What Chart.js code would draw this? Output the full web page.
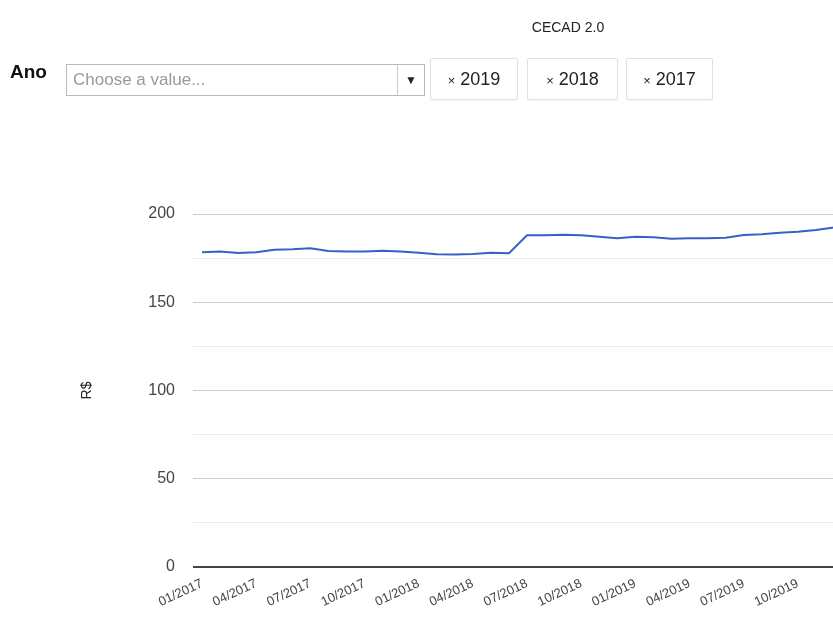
<!DOCTYPE html>
<html>
<head>
<meta charset="utf-8">
<script src="https://cdn.jsdelivr.net/npm/chart.js@4/dist/chart.umd.min.js"></script>
<style>
  html, body { margin: 0; padding: 0; width: 833px; height: 618px; overflow: hidden; background: #fff; font-family: "Liberation Sans", Arial, sans-serif; }
  #wrap { position: absolute; left: 0; top: 0; width: 860px; height: 618px; }
  #title { position: absolute; left: 520px; top: 19px; width: 96px; text-align: center; font-size: 14px; color: #222; white-space: nowrap; }
  #ano { position: absolute; left: 10px; top: 61px; font-size: 19px; font-weight: bold; color: #111; }
  #select { position: absolute; left: 66px; top: 64px; width: 357px; height: 30px; border: 1px solid #bbb; background: #fff; }
  #select .ph { position: absolute; left: 6px; top: 5px; font-size: 17px; color: #999; }
  #select .dd { position: absolute; right: 0; top: 0; width: 26px; height: 30px; border-left: 1px solid #ccc; text-align: center; font-size: 12px; line-height: 31px; color: #222; }
  .chip { position: absolute; top: 58px; height: 40px; border: 1px solid #e0e0e0; border-radius: 2px; box-shadow: 0 1px 1px rgba(0,0,0,0.05); font-size: 18px; color: #222; text-align: center; line-height: 40px; background: #fff; }
  .chip .x { font-size: 13px; margin-right: 5px; }
</style>
</head>
<body>
<div id="wrap"><canvas id="c" width="860" height="618"></canvas></div>
<div id="title">CECAD 2.0</div>
<div id="ano">Ano</div>
<div id="select"><span class="ph">Choose a value...</span><span class="dd">&#9660;</span></div>
<div class="chip" style="left:430px;width:86px;"><span class="x">&#215;</span>2019</div>
<div class="chip" style="left:527px;width:89px;"><span class="x">&#215;</span>2018</div>
<div class="chip" style="left:626px;width:85px;"><span class="x">&#215;</span>2017</div>
<script>
const months = [
  '01/2017','02/2017','03/2017','04/2017','05/2017','06/2017','07/2017','08/2017','09/2017','10/2017','11/2017','12/2017',
  '01/2018','02/2018','03/2018','04/2018','05/2018','06/2018','07/2018','08/2018','09/2018','10/2018','11/2018','12/2018',
  '01/2019','02/2019','03/2019','04/2019','05/2019','06/2019','07/2019','08/2019','09/2019','10/2019','11/2019','12/2019'
];
const valores = [
  178.3,178.7,177.9,178.3,179.8,180.0,180.6,179.0,178.7,178.7,179.2,178.7,
  178.1,177.2,177.0,177.3,178.1,177.8,187.9,187.9,188.3,187.9,187.1,186.2,
  187.1,186.8,186.0,186.2,186.2,186.6,188.1,188.5,189.4,190.0,190.9,192.4
];
const yTicks = [0, 50, 100, 150, 200];
const seriesName = 'R$';

new Chart(document.getElementById('c'), {
  type: 'line',
  data: {
    labels: months,
    datasets: [{
      label: seriesName,
      data: valores,
      borderColor: '#3762c4',
      backgroundColor: '#3762c4',
      borderWidth: 2,
      pointRadius: 0,
      tension: 0,
      fill: false
    }]
  },
  options: {
    responsive: false,
    animation: false,
    layout: { padding: { left: 75, top: 214, right: 17, bottom: 0 } },
    plugins: { legend: { display: false }, tooltip: { enabled: false }, title: { display: false } },
    scales: {
      x: {
        type: 'category',
        offset: true,
        grid: { display: false },
        border: { display: false },
        ticks: {
          autoSkip: false,
          minRotation: 25,
          maxRotation: 25,
          padding: 1,
          color: '#444',
          font: { family: 'Liberation Sans', size: 13 },
          callback: function(v, i) { return i % 3 === 0 ? months[i] : ''; }
        },
        afterFit: function(s) { s.height = 51; }
      },
      y: {
        min: 0,
        max: 200,
        border: { display: false },
        grid: {
          drawTicks: false,
          color: function(ctx) {
            const v = ctx.tick ? ctx.tick.value : null;
            if (v === 0) return '#444';
            return yTicks.includes(v) ? '#cccccc' : '#ebebeb';
          },
          lineWidth: function(ctx) { return (ctx.tick && ctx.tick.value === 0) ? 2 : 1; }
        },
        ticks: {
          stepSize: 25,
          padding: 18,
          color: '#444',
          font: { family: 'Liberation Sans', size: 16 },
          callback: function(v) { return yTicks.includes(v) ? String(v) : ''; }
        },
        title: {
          display: true,
          text: seriesName,
          color: '#222',
          font: { family: 'Liberation Sans', size: 14 },
          padding: 4
        },
        afterFit: function(s) { s.width = 118; }
      }
    }
  }
});
</script>
</body>
</html>
